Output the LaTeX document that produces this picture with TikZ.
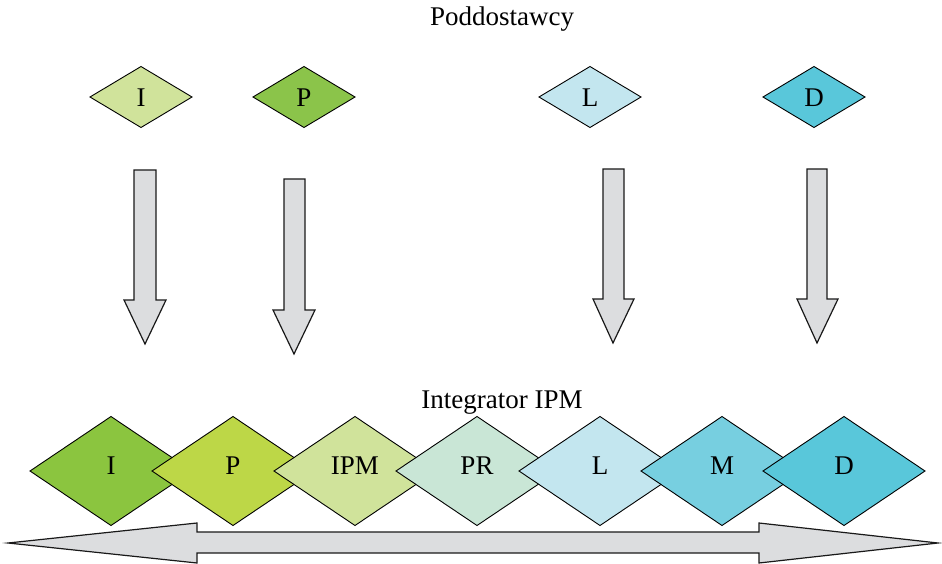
\documentclass[tikz,border=0pt]{standalone}
\usepackage{fontspec}
\setmainfont{Liberation Serif}
\usetikzlibrary{shapes.geometric}
\definecolor{cIa}{HTML}{D0E39B}
\definecolor{cPa}{HTML}{8BC44A}
\definecolor{cLa}{HTML}{C3E6EF}
\definecolor{cDa}{HTML}{59C7DA}
\definecolor{bI}{HTML}{8BC53F}
\definecolor{bP}{HTML}{BDD747}
\definecolor{bIPM}{HTML}{D0E39B}
\definecolor{bPR}{HTML}{C9E6D6}
\definecolor{bL}{HTML}{C3E6EF}
\definecolor{bM}{HTML}{77CFE0}
\definecolor{bD}{HTML}{59C7DA}
\definecolor{arrgray}{HTML}{DCDDDF}
\tikzset{
  smalldia/.style={diamond, draw=black, line width=0.9pt, inner sep=0pt, outer sep=0pt, minimum width=102pt, minimum height=61pt},
  bigdia/.style={diamond, draw=black, line width=0.9pt, inner sep=0pt, outer sep=0pt, minimum width=162pt, minimum height=109pt},
  lab/.style={anchor=base, inner sep=0pt, font=\fontsize{27}{31}\selectfont},
  bigarrow/.style={draw=black!90, fill=arrgray, line width=1.2pt, line join=miter}
}
\begin{document}
\begin{tikzpicture}[x=1pt,y=-1pt]
\useasboundingbox (0,0) rectangle (942,564);
% titles
\node[lab] (title1) at (502,26) {Poddostawcy};
\node[lab] (title2) at (502,408) {Integrator IPM};
% top diamonds
\node[smalldia, fill=cIa] (tI) at (141,97) {};
\node[lab] (tIl) at (141,107) {I};
\node[smalldia, fill=cPa] (tP) at (304,97) {};
\node[lab] (tPl) at (304,107) {P};
\node[smalldia, fill=cLa] (tL) at (590,97) {};
\node[lab] (tLl) at (590,107) {L};
\node[smalldia, fill=cDa] (tD) at (814,97) {};
\node[lab] (tDl) at (814,107) {D};
% down arrows
\draw[bigarrow] (134,170) -- (156,170) -- (156,300) -- (166,300) -- (145,344) -- (124,300) -- (134,300) -- cycle;
\draw[bigarrow] (284,179) -- (305,179) -- (305,310) -- (315,310) -- (294,354) -- (273,310) -- (284,310) -- cycle;
\draw[bigarrow] (603,169) -- (624,169) -- (624,299) -- (634,299) -- (613,343) -- (593,299) -- (603,299) -- cycle;
\draw[bigarrow] (807,169) -- (827,169) -- (827,299) -- (838,299) -- (817,343) -- (797,299) -- (807,299) -- cycle;
% bottom diamonds
\node[bigdia, fill=bI] (bIn) at (111,471) {};
\node[bigdia, fill=bP] (bPn) at (233,471) {};
\node[bigdia, fill=bIPM] (bIPMn) at (355,471) {};
\node[bigdia, fill=bPR] (bPRn) at (477,471) {};
\node[bigdia, fill=bL] (bLn) at (600,471) {};
\node[bigdia, fill=bM] (bMn) at (722,471) {};
\node[bigdia, fill=bD] (bDn) at (844,471) {};
\node[lab] (bIl) at (111,474) {I};
\node[lab] (bPl) at (233,474) {P};
\node[lab] (bIPMl) at (355,474) {IPM};
\node[lab] (bPRl) at (477,474) {PR};
\node[lab] (bLl) at (600,474) {L};
\node[lab] (bMl) at (722,474) {M};
\node[lab] (bDl) at (844,474) {D};
% double arrow
\draw[bigarrow] (8,543) -- (197,523) -- (197,532) -- (759,532) -- (759,523) -- (938,543) -- (759,563) -- (759,553) -- (197,553) -- (197,563) -- cycle;
\end{tikzpicture}
\end{document}
